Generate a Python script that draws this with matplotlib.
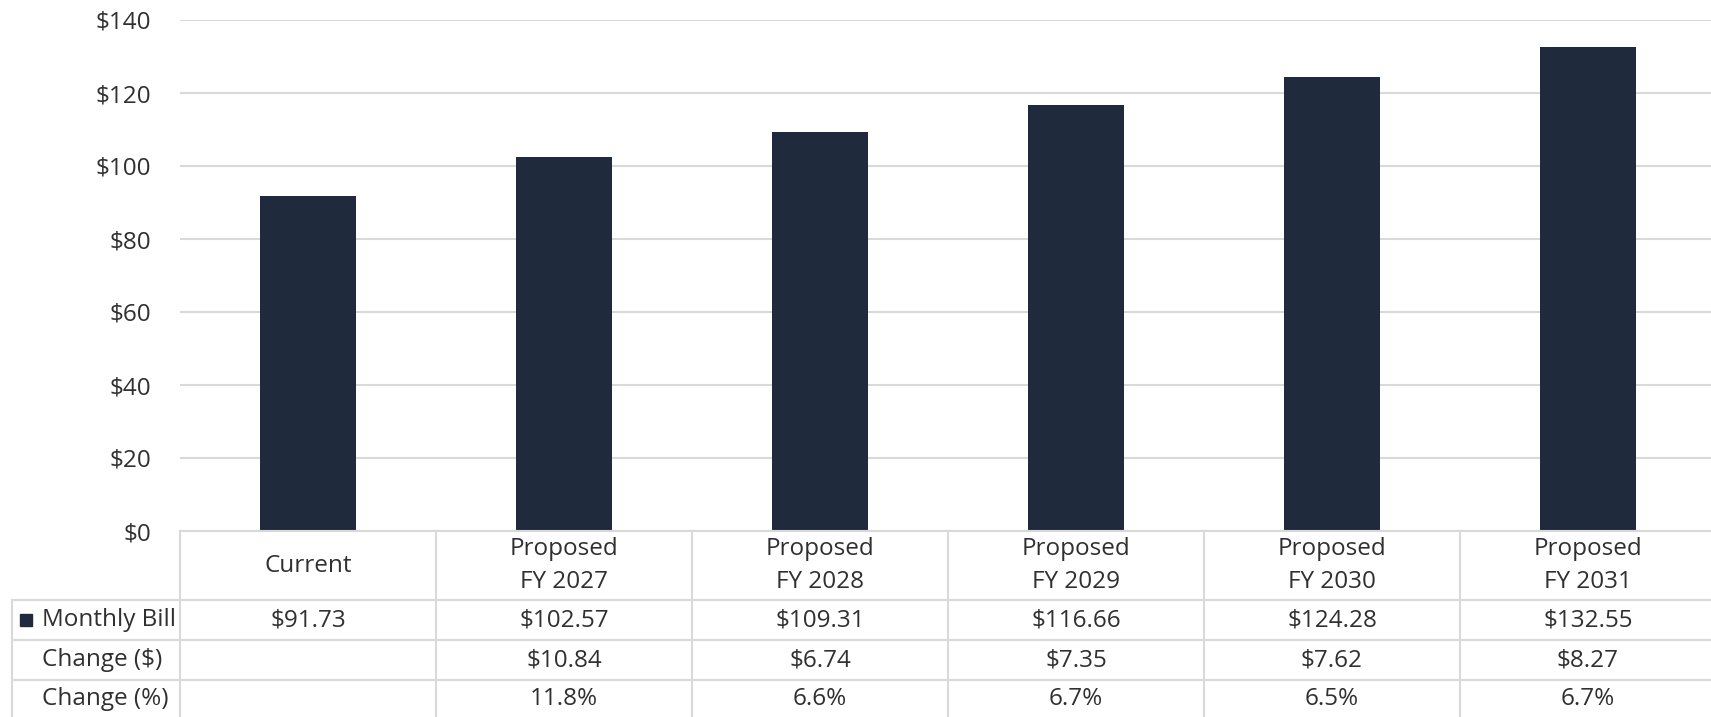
import matplotlib.pyplot as plt
from matplotlib.patches import Rectangle

categories = ["Current", "Proposed\nFY 2027", "Proposed\nFY 2028", "Proposed\nFY 2029",
              "Proposed\nFY 2030", "Proposed\nFY 2031"]
monthly_bill = [91.73, 102.57, 109.31, 116.66, 124.28, 132.55]
change_dollar = ["", "$10.84", "$6.74", "$7.35", "$7.62", "$8.27"]
change_pct = ["", "11.8%", "6.6%", "6.7%", "6.5%", "6.7%"]
row_labels = ["Monthly Bill", "Change ($)", "Change (%)"]
y_ticks = [0, 20, 40, 60, 80, 100, 120, 140]

BAR = "#1f2a3c"
GRID = "#d9d9d9"
TXT = "#303030"
FS = 17.5
plt.rcParams['font.family'] = ['Open Sans', 'DejaVu Sans']

W, H = 1711, 717
fig = plt.figure(figsize=(W / 100, H / 100), dpi=100)

# bar area (pixel layout from the reference)
left, right, top, base = 180, 1716, 20, 531
ax = fig.add_axes([left / W, (H - base) / H, (right - left) / W, (base - top) / H])
x = range(len(categories))
ax.bar(x, monthly_bill, width=0.375, color=BAR, zorder=3)
ax.set_xlim(-0.5, len(categories) - 0.5)
ax.set_ylim(0, 140)
ax.set_yticks(y_ticks)
ax.set_yticklabels([f"${v}" for v in y_ticks], fontsize=FS, color=TXT)
ax.tick_params(axis='y', length=0, pad=21)
ax.set_xticks([])
ax.grid(axis='y', color=GRID, linewidth=1.5, zorder=0)
for s in ax.spines.values():
    s.set_visible(False)

# table area: x in bar data units, y in pixels from top
tab = fig.add_axes([left / W, 0, (right - left) / W, (H - base) / H])
tab.set_xlim(-0.5, len(categories) - 0.5)
tab.set_ylim(H, base)
tab.axis('off')
px = (right - left) / len(categories)
x_lab = -0.5 - (left - 12) / px
x_txt = -0.5 - (left - 42) / px

row_y = [600, 640, 680]
kw = dict(color=GRID, linewidth=1.5, clip_on=False)
tab.plot([-0.5, len(categories) - 0.5], [base, base], **kw)
for yy in row_y:
    tab.plot([x_lab, len(categories) - 0.5], [yy, yy], **kw)
for i in range(len(categories) + 1):
    tab.plot([i - 0.5, i - 0.5], [base, H], **kw)
tab.plot([x_lab, x_lab], [row_y[0], H], **kw)

for i, c in enumerate(categories):
    tab.text(i, (base + row_y[0]) / 2, c, ha='center', va='center', fontsize=FS,
             color=TXT, linespacing=1.45)
    tab.text(i, 620, f"${monthly_bill[i]:.2f}", ha='center', va='center', fontsize=FS, color=TXT)
    tab.text(i, 660, change_dollar[i], ha='center', va='center', fontsize=FS, color=TXT)
    tab.text(i, 699, change_pct[i], ha='center', va='center', fontsize=FS, color=TXT)

for yy, lab in zip([620, 660, 699], row_labels):
    tab.text(x_txt, yy, lab, ha='left', va='center', fontsize=FS, color=TXT, clip_on=False)
sq = 12 / px
tab.add_patch(Rectangle((x_txt - 0.085, 614), sq, 12, color=BAR, clip_on=False))

fig.savefig("out.png", dpi=100)
